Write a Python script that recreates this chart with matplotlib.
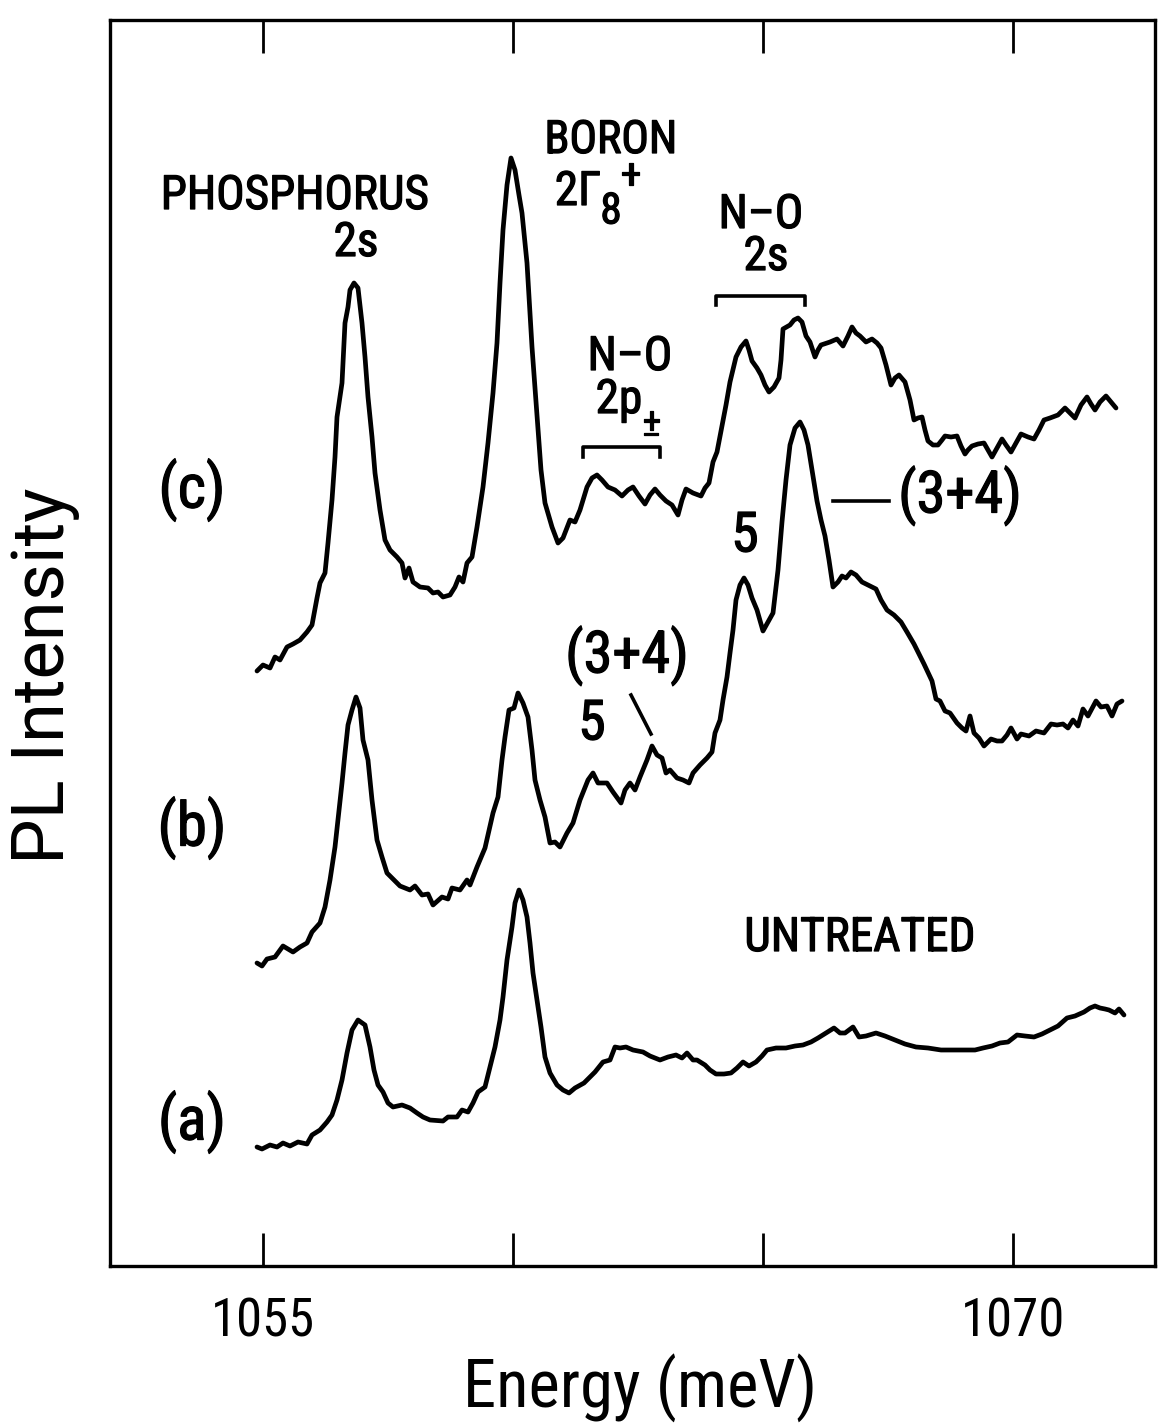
import matplotlib
matplotlib.use("Agg")
import matplotlib.pyplot as plt
from matplotlib import font_manager
from matplotlib.font_manager import FontProperties
import matplotlib.patheffects as pe

# ---------------- data (energy in meV, PL intensity in arbitrary units) ----------------
c_energy = [1054.88, 1055.00, 1055.14, 1055.24, 1055.34, 1055.48, 1055.60, 1055.74, 1055.88, 1055.98,
            1056.08, 1056.14, 1056.24, 1056.30, 1056.38, 1056.44, 1056.48, 1056.58, 1056.64, 1056.70,
            1056.74, 1056.82, 1056.90, 1056.98, 1057.04, 1057.10, 1057.18, 1057.24, 1057.34, 1057.44,
            1057.54, 1057.68, 1057.78, 1057.84, 1057.92, 1058.00, 1058.14, 1058.30, 1058.40, 1058.50,
            1058.60, 1058.74, 1058.84, 1058.92, 1059.00, 1059.08, 1059.18, 1059.28, 1059.40, 1059.50,
            1059.60, 1059.68, 1059.74, 1059.80, 1059.88, 1059.96, 1060.04, 1060.12, 1060.18, 1060.28,
            1060.38, 1060.50, 1060.56, 1060.64, 1060.78, 1060.90, 1061.00, 1061.14, 1061.24, 1061.34,
            1061.48, 1061.58, 1061.68, 1061.78, 1061.90, 1062.04, 1062.18, 1062.30, 1062.40, 1062.52,
            1062.64, 1062.74, 1062.84, 1062.94, 1063.06, 1063.18, 1063.30, 1063.38, 1063.46, 1063.60,
            1063.76, 1063.84, 1063.92, 1064.00, 1064.08, 1064.16, 1064.26, 1064.34, 1064.46, 1064.56,
            1064.66, 1064.72, 1064.78, 1064.88, 1064.96, 1065.04, 1065.12, 1065.22, 1065.32, 1065.36,
            1065.40, 1065.54, 1065.62, 1065.70, 1065.78, 1065.86, 1065.94, 1066.04, 1066.10, 1066.16,
            1066.34, 1066.48, 1066.60, 1066.70, 1066.78, 1066.86, 1066.94, 1067.06, 1067.18, 1067.28,
            1067.36, 1067.46, 1067.56, 1067.64, 1067.72, 1067.84, 1067.94, 1068.02, 1068.10, 1068.18,
            1068.24, 1068.30, 1068.40, 1068.50, 1068.58, 1068.64, 1068.76, 1068.88, 1068.96, 1069.04,
            1069.10, 1069.18, 1069.30, 1069.42, 1069.50, 1069.58, 1069.68, 1069.78, 1069.86, 1069.96,
            1070.06, 1070.16, 1070.30, 1070.42, 1070.52, 1070.62, 1070.74, 1070.90, 1071.04, 1071.14,
            1071.24, 1071.36, 1071.48, 1071.56, 1071.64, 1071.74, 1071.86, 1071.96, 1072.06]
c_intensity = [59.5, 60.1, 59.8, 60.9, 60.6, 61.9, 62.2, 62.6, 63.4, 64.1,
               66.8, 68.3, 69.3, 72.3, 76.6, 80.9, 84.9, 88.3, 94.3, 95.9,
               97.6, 98.3, 97.8, 94.3, 90.9, 86.9, 82.9, 79.3, 75.6, 72.6,
               71.6, 70.9, 70.3, 68.8, 69.8, 68.4, 67.9, 67.8, 67.3, 67.4,
               66.9, 67.1, 67.9, 68.9, 68.4, 70.3, 70.9, 73.9, 77.9, 82.3,
               87.3, 92.3, 98.3, 103.6, 108.1, 110.8, 109.6, 107.1, 105.3, 100.3,
               91.9, 83.6, 79.6, 76.3, 73.9, 72.3, 72.8, 74.6, 74.4, 75.6,
               77.9, 78.8, 79.1, 78.6, 77.9, 77.6, 77.0, 77.6, 77.9, 77.0,
               76.2, 77.1, 77.7, 77.1, 76.5, 76.1, 75.1, 76.6, 77.7, 77.3,
               77.0, 77.8, 78.3, 80.4, 81.4, 83.5, 86.1, 88.4, 90.9, 91.9,
               92.5, 91.6, 90.5, 89.8, 89.1, 88.1, 87.4, 87.9, 88.8, 90.6,
               93.7, 94.1, 94.6, 94.8, 94.4, 93.0, 92.4, 90.9, 91.6, 92.1,
               92.4, 92.7, 92.0, 93.0, 93.9, 93.3, 93.0, 92.4, 92.7, 92.3,
               91.8, 90.1, 88.1, 88.8, 89.1, 88.4, 86.6, 84.6, 84.8, 84.9,
               83.6, 82.5, 82.1, 82.1, 82.6, 83.0, 82.9, 83.0, 82.0, 81.2,
               81.6, 82.0, 82.2, 82.3, 81.6, 80.9, 81.8, 82.7, 82.1, 81.4,
               82.3, 83.2, 82.9, 82.7, 83.6, 84.6, 84.8, 85.1, 85.8, 85.3,
               84.8, 86.1, 86.9, 86.2, 85.6, 86.4, 87.0, 86.4, 85.8]

b_energy = [1054.88, 1054.98, 1055.08, 1055.24, 1055.40, 1055.60, 1055.74, 1055.88, 1055.98, 1056.14,
            1056.24, 1056.34, 1056.44, 1056.50, 1056.58, 1056.64, 1056.70, 1056.78, 1056.86, 1056.94,
            1057.00, 1057.10, 1057.18, 1057.28, 1057.38, 1057.48, 1057.60, 1057.74, 1057.94, 1058.04,
            1058.18, 1058.30, 1058.40, 1058.58, 1058.70, 1058.78, 1058.94, 1059.08, 1059.14, 1059.28,
            1059.44, 1059.60, 1059.70, 1059.78, 1059.84, 1059.92, 1060.02, 1060.10, 1060.20, 1060.30,
            1060.38, 1060.44, 1060.54, 1060.64, 1060.74, 1060.84, 1060.94, 1061.08, 1061.20, 1061.34,
            1061.50, 1061.60, 1061.70, 1061.88, 1062.00, 1062.16, 1062.24, 1062.34, 1062.44, 1062.54,
            1062.68, 1062.78, 1062.88, 1062.98, 1063.06, 1063.14, 1063.28, 1063.40, 1063.52, 1063.60,
            1063.74, 1063.88, 1063.98, 1064.04, 1064.14, 1064.20, 1064.28, 1064.34, 1064.40, 1064.46,
            1064.54, 1064.62, 1064.70, 1064.78, 1064.88, 1065.00, 1065.10, 1065.20, 1065.30, 1065.38,
            1065.46, 1065.54, 1065.64, 1065.74, 1065.82, 1065.90, 1065.98, 1066.08, 1066.16, 1066.24,
            1066.32, 1066.40, 1066.50, 1066.58, 1066.66, 1066.76, 1066.86, 1066.98, 1067.10, 1067.26,
            1067.36, 1067.48, 1067.62, 1067.76, 1067.88, 1068.02, 1068.12, 1068.22, 1068.38, 1068.46,
            1068.54, 1068.64, 1068.74, 1068.88, 1068.98, 1069.06, 1069.14, 1069.22, 1069.32, 1069.42,
            1069.56, 1069.68, 1069.78, 1069.88, 1069.96, 1070.08, 1070.16, 1070.32, 1070.46, 1070.62,
            1070.76, 1070.88, 1071.00, 1071.10, 1071.20, 1071.30, 1071.40, 1071.50, 1071.66, 1071.76,
            1071.88, 1071.98, 1072.08, 1072.18]
b_intensity = [30.3, 30.0, 30.7, 30.9, 32.0, 31.4, 31.9, 32.3, 33.4, 34.3,
               35.9, 38.6, 41.9, 44.6, 48.3, 51.3, 54.1, 55.6, 56.9, 55.8,
               52.6, 50.6, 46.6, 42.6, 40.9, 39.3, 38.7, 38.0, 37.6, 38.0,
               37.1, 37.2, 36.1, 36.9, 36.7, 37.8, 37.6, 38.6, 38.1, 39.9,
               41.8, 45.3, 46.9, 50.6, 52.9, 55.6, 55.8, 57.3, 56.3, 54.9,
               51.6, 48.6, 46.6, 44.9, 42.3, 42.4, 41.9, 43.3, 44.3, 46.6,
               48.6, 49.3, 48.3, 48.3, 47.4, 46.3, 47.6, 48.3, 47.6, 48.9,
               50.6, 52.0, 51.1, 50.8, 49.3, 49.6, 48.8, 48.6, 48.3, 49.3,
               50.1, 50.8, 51.4, 53.3, 54.6, 56.6, 58.9, 61.3, 63.6, 66.6,
               68.1, 68.8, 68.1, 66.8, 65.6, 63.5, 64.4, 65.3, 69.6, 74.4,
               78.6, 82.1, 83.8, 84.4, 83.6, 82.1, 79.6, 76.5, 74.6, 73.0,
               70.6, 67.9, 68.4, 69.0, 68.8, 69.4, 69.1, 68.4, 68.1, 67.7,
               66.6, 65.6, 65.1, 64.4, 63.4, 62.2, 61.2, 60.2, 58.5, 56.7,
               56.5, 55.5, 55.3, 54.3, 53.8, 53.5, 55.0, 53.3, 52.8, 52.0,
               52.7, 52.5, 52.5, 53.1, 53.8, 52.7, 53.2, 53.0, 53.5, 53.3,
               54.2, 54.1, 54.2, 53.8, 54.6, 54.0, 55.7, 55.0, 56.5, 55.9,
               56.0, 55.0, 56.2, 56.5]

a_energy = [1054.88, 1054.98, 1055.14, 1055.28, 1055.40, 1055.54, 1055.70, 1055.88, 1055.98, 1056.14,
            1056.28, 1056.38, 1056.48, 1056.58, 1056.68, 1056.78, 1056.90, 1057.04, 1057.14, 1057.22,
            1057.30, 1057.40, 1057.50, 1057.60, 1057.78, 1057.94, 1058.08, 1058.20, 1058.34, 1058.60,
            1058.70, 1058.88, 1058.98, 1059.10, 1059.20, 1059.30, 1059.44, 1059.54, 1059.64, 1059.74,
            1059.80, 1059.88, 1059.98, 1060.04, 1060.12, 1060.20, 1060.28, 1060.34, 1060.40, 1060.48,
            1060.56, 1060.64, 1060.74, 1060.88, 1061.00, 1061.12, 1061.24, 1061.42, 1061.64, 1061.80,
            1061.94, 1062.04, 1062.14, 1062.26, 1062.40, 1062.60, 1062.74, 1062.94, 1063.10, 1063.26,
            1063.38, 1063.48, 1063.60, 1063.68, 1063.84, 1063.94, 1064.06, 1064.22, 1064.36, 1064.48,
            1064.60, 1064.72, 1064.86, 1064.98, 1065.08, 1065.26, 1065.46, 1065.64, 1065.80, 1065.96,
            1066.10, 1066.26, 1066.42, 1066.54, 1066.64, 1066.80, 1066.92, 1067.06, 1067.26, 1067.44,
            1067.64, 1067.84, 1068.06, 1068.30, 1068.56, 1068.80, 1069.06, 1069.24, 1069.40, 1069.58,
            1069.74, 1069.90, 1070.08, 1070.24, 1070.42, 1070.58, 1070.74, 1070.90, 1071.08, 1071.24,
            1071.42, 1071.54, 1071.64, 1071.74, 1071.84, 1071.92, 1072.04, 1072.12, 1072.22]
a_intensity = [11.9, 11.7, 12.1, 11.9, 12.3, 12.0, 12.4, 12.2, 13.1, 13.6,
               14.4, 15.1, 16.6, 18.6, 21.3, 23.6, 24.6, 24.1, 21.9, 19.6,
               18.1, 17.4, 16.3, 15.9, 16.1, 15.8, 15.3, 14.9, 14.6, 14.5,
               14.9, 14.9, 15.6, 15.4, 16.3, 17.4, 17.9, 19.9, 21.9, 24.6,
               26.9, 30.6, 33.9, 36.3, 37.6, 36.6, 34.9, 32.3, 29.3, 26.6,
               23.9, 20.9, 19.3, 18.1, 17.6, 17.3, 17.8, 18.3, 19.4, 20.4,
               20.6, 21.9, 21.8, 21.9, 21.6, 21.4, 21.0, 20.6, 20.9, 21.1,
               20.8, 21.3, 20.6, 20.6, 20.1, 19.6, 19.2, 19.2, 19.3, 19.8,
               20.4, 20.0, 20.4, 21.0, 21.6, 21.8, 21.8, 22.0, 22.1, 22.4,
               22.8, 23.3, 23.8, 23.3, 23.3, 23.9, 22.9, 23.0, 23.3, 23.0,
               22.6, 22.2, 21.9, 21.8, 21.6, 21.6, 21.6, 21.6, 21.8, 22.0,
               22.3, 22.4, 23.1, 23.0, 22.9, 23.2, 23.6, 24.0, 24.8, 25.0,
               25.4, 25.8, 26.0, 25.8, 25.7, 25.6, 25.3, 25.7, 25.1]

x_ticks = [1055, 1060, 1065, 1070]
x_tick_labels = ["1055", "", "", "1070"]
curve_labels = ["(c)", "(b)", "(a)"]

# ---------------- fonts: look for a condensed sans face ----------------
names = {f.name for f in font_manager.fontManager.ttflist}
NARROW, STRETCH = None, "normal"
for cand in ["Liberation Sans Narrow", "Roboto Condensed", "Noto Sans Condensed",
             "Open Sans Condensed", "DejaVu Sans Condensed", "Noto Sans SemiCondensed",
             "Open Sans SemiCondensed"]:
    if cand in names:
        NARROW = cand
        break
if NARROW is None:
    for fam in ["Roboto", "Noto Sans", "Open Sans", "DejaVu Sans", "Liberation Sans"]:
        try:
            p = font_manager.findfont(FontProperties(family=fam, stretch="condensed"),
                                      fallback_to_default=False)
        except Exception:
            continue
        if "ondensed" in p or "arrow" in p:
            NARROW, STRETCH = fam, "condensed"
            break
if NARROW is None:
    NARROW = "Liberation Sans"
FAM = [NARROW, "DejaVu Sans"]
FAM_WIDE = ["Roboto", "Liberation Sans", "DejaVu Sans"]
THICK = [pe.withStroke(linewidth=0.9, foreground="black")]

# ---------------- figure ----------------
W, H = 1158, 1427
fig = plt.figure(figsize=(W / 100, H / 100), dpi=100)
L, R, T, B = 110, 1155, 20, 1266
ax = fig.add_axes([L / W, (H - B) / H, (R - L) / W, (B - T) / H])
ax.set_xlim(1051.94, 1072.84)
ax.set_ylim(0, 124.6)

lw = 3.4
for e, i in ((c_energy, c_intensity), (b_energy, b_intensity), (a_energy, a_intensity)):
    ax.plot(e, i, color="black", lw=lw, solid_joinstyle="round", solid_capstyle="round")

for s in ax.spines.values():
    s.set_linewidth(2.4)

ax.set_xticks(x_ticks)
ax.set_xticklabels(x_tick_labels, fontfamily=FAM, fontstretch=STRETCH, fontsize=38)
ax.tick_params(axis="x", which="both", direction="in", top=True, bottom=True,
               length=24, width=2.0, pad=22)
ax.set_yticks([])

ax.set_xlabel("Energy (meV)", fontfamily=FAM, fontstretch=STRETCH, fontsize=48)
ax.xaxis.set_label_coords(0.507, -0.098)
ax.xaxis.label.set_verticalalignment("center")
ax.set_ylabel("PL Intensity", fontfamily=FAM_WIDE, fontsize=52)
ax.yaxis.set_label_coords(-0.062, 0.474)
ax.yaxis.label.set_verticalalignment("center")

def txt(x, y, s, size=34, **kw):
    ax.text(x, y, s, fontfamily=FAM, fontstretch=STRETCH, fontsize=size,
            ha="center", va="center", path_effects=THICK, **kw)

# curve labels
for lab, y in zip(curve_labels, [77.6, 43.8, 14.4]):
    txt(1053.58, y, lab, size=44)

# peak labels
txt(1055.64, 107.0, "PHOSPHORUS")
txt(1056.86, 102.3, "2s")
txt(1061.96, 112.6, "BORON", size=33)
txt(1061.30, 107.4, "2Γ")
txt(1061.96, 105.4, "8", size=31)
txt(1062.36, 109.0, "+", size=30)

txt(1064.96, 105.1, "N–O")
txt(1065.06, 100.9, "2s")
bx0, bx1, by, bt = 1064.06, 1065.84, 97.0, 96.1
ax.plot([bx0, bx0, bx1, bx1], [bt, by, by, bt], color="black", lw=2.6)

txt(1062.34, 90.9, "N–O")
txt(1062.12, 86.6, "2p")
txt(1062.76, 84.2, "±", size=29)
px0, px1, py, pt = 1061.40, 1062.94, 81.9, 80.9
ax.plot([px0, px0, px1, px1], [pt, py, py, pt], color="black", lw=2.6)

txt(1064.64, 73.0, "5", size=40)
txt(1068.94, 77.0, "(3+4)", size=42)
ax.plot([1066.40, 1067.52], [76.5, 76.5], color="black", lw=2.6)

txt(1062.28, 61.0, "(3+4)", size=42)
ax.plot([1062.36, 1062.76], [57.1, 53.2], color="black", lw=2.6)
txt(1061.58, 54.2, "5", size=40)

txt(1066.94, 32.8, "UNTREATED", size=34)

fig.savefig("out.png", dpi=100)
